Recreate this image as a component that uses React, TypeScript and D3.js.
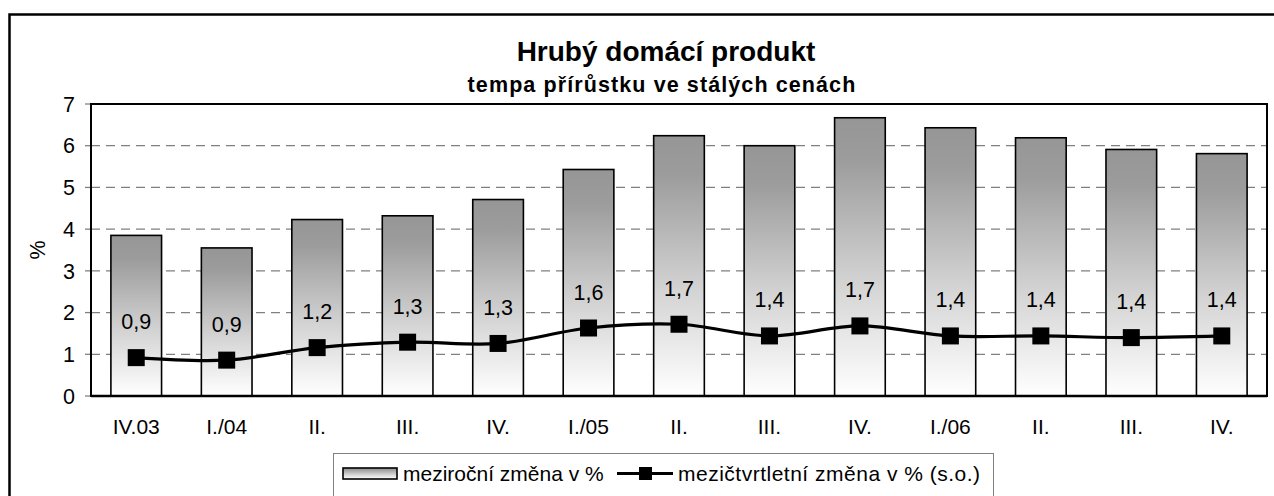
import React from 'react'
import * as d3 from 'd3'

const quarters = ['IV.03', 'I./04', 'II.', 'III.', 'IV.', 'I./05', 'II.', 'III.', 'IV.', 'I./06', 'II.', 'III.', 'IV.']
// meziroční změna v %
const yoyValues = [3.85, 3.55, 4.23, 4.32, 4.71, 5.43, 6.24, 6.0, 6.67, 6.43, 6.19, 5.91, 5.81]
// mezičtvrtletní změna v % (s.o.)
const qoqValues = [0.92, 0.86, 1.16, 1.29, 1.26, 1.63, 1.72, 1.44, 1.68, 1.44, 1.44, 1.4, 1.44]
const yTicks = [0, 1, 2, 3, 4, 5, 6, 7]

const W = 1274
const H = 496
const plot = { left: 91, top: 104, right: 1267, bottom: 396 }
const font = '"Liberation Sans", Arial, sans-serif'

export default function App() {
  const x = d3
    .scaleBand()
    .domain(quarters.map((q, i) => String(i)))
    .range([plot.left, plot.right])
    .paddingInner(0.44)
    .paddingOuter(0.22)

  const y = d3.scaleLinear().domain([0, 7]).range([plot.bottom, plot.top])

  const cx = (i: number) => (x(String(i)) as number) + x.bandwidth() / 2

  const line = d3
    .line<number>()
    .x((d, i) => cx(i))
    .y((d) => y(d))
    .curve(d3.curveCardinal.tension(0))

  const fmt = (v: number) => v.toFixed(1).replace('.', ',')

  return (
    <svg
      width={W}
      height={H}
      style={{ position: 'absolute', left: 0, top: 0, background: '#fff' }}
      fontFamily={font}
    >
      <defs>
        <linearGradient id="barGrad" x1="0" y1="0" x2="0" y2="1">
          <stop offset="0" stopColor="#969696" />
          <stop offset="0.15" stopColor="#9c9c9c" />
          <stop offset="0.6" stopColor="#d4d4d4" />
          <stop offset="1" stopColor="#ffffff" />
        </linearGradient>
      </defs>

      {/* outer frame, cut off at right and bottom */}
      <rect x={9.5} y={14.5} width={1400} height={700} fill="#fff" stroke="#000" strokeWidth={2.5} />

      {/* title */}
      <text x={666} y={61} textAnchor="middle" fontSize={28} fontWeight="bold">
        Hrubý domácí produkt
      </text>
      <text x={662} y={92} textAnchor="middle" fontSize={21.5} fontWeight="bold" letterSpacing={1.1}>
        tempa přírůstku ve stálých cenách
      </text>

      {/* grid */}
      {yTicks
        .filter((t) => t > 0 && t < 7)
        .map((t) => (
          <line
            key={'g' + t}
            x1={plot.left}
            x2={plot.right}
            y1={y(t)}
            y2={y(t)}
            stroke="#808080"
            strokeWidth={1.3}
            strokeDasharray="9,6"
          />
        ))}

      {/* y axis ticks & labels */}
      {yTicks.map((t) => (
        <g key={'t' + t}>
          <line x1={plot.left - 6} x2={plot.left} y1={y(t)} y2={y(t)} stroke="#808080" strokeWidth={1.3} />
          <text x={75} y={y(t)} dy="0.36em" textAnchor="end" fontSize={21.5}>
            {t}
          </text>
        </g>
      ))}
      <text transform={`translate(45,${(plot.top + plot.bottom) / 2}) rotate(-90)`} textAnchor="middle" fontSize={21.5}>
        %
      </text>

      {/* bars */}
      {yoyValues.map((v, i) => (
        <rect
          key={'b' + i}
          x={x(String(i))}
          y={y(v)}
          width={x.bandwidth()}
          height={y(0) - y(v)}
          fill="url(#barGrad)"
          stroke="#000"
          strokeWidth={1.6}
        />
      ))}

      {/* plot border */}
      <rect
        x={plot.left}
        y={plot.top}
        width={plot.right - plot.left}
        height={plot.bottom - plot.top}
        fill="none"
        stroke="#000"
        strokeWidth={2}
      />
      <line x1={plot.left} x2={plot.right} y1={plot.bottom} y2={plot.bottom} stroke="#000" strokeWidth={2.5} />

      {/* line series */}
      <path d={line(qoqValues) || ''} fill="none" stroke="#000" strokeWidth={3.2} />
      {qoqValues.map((v, i) => (
        <rect key={'m' + i} x={cx(i) - 8.5} y={y(v) - 8.5} width={17} height={17} fill="#000" />
      ))}
      {qoqValues.map((v, i) => (
        <text key={'l' + i} x={cx(i)} y={y(v) - 28.5} textAnchor="middle" fontSize={21.5}>
          {fmt(v)}
        </text>
      ))}

      {/* x labels */}
      {quarters.map((q, i) => (
        <text key={'x' + i} x={cx(i)} y={434} textAnchor="middle" fontSize={21}>
          {q}
        </text>
      ))}

      {/* legend */}
      <rect x={333.5} y={453.5} width={660} height={80} fill="#fff" stroke="#808080" strokeWidth={1} />
      <rect x={343} y={468} width={54} height={11} fill="url(#barGrad)" stroke="#000" strokeWidth={1.6} />
      <text x={403} y={481} fontSize={21}>
        meziroční změna v %
      </text>
      <line x1={617} x2={673} y1={473.5} y2={473.5} stroke="#000" strokeWidth={3.2} />
      <rect x={639} y={467} width={13} height={13} fill="#000" />
      <text x={678} y={481} fontSize={21} letterSpacing={0.5}>
        mezičtvrtletní změna v % (s.o.)
      </text>
    </svg>
  )
}
